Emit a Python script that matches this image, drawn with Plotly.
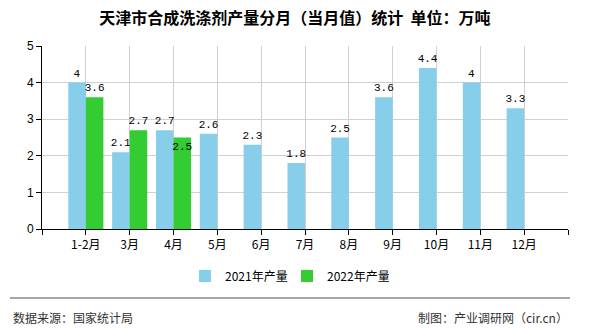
import plotly.graph_objects as go

categories = ["1-2月", "3月", "4月", "5月", "6月", "7月", "8月", "9月", "10月", "11月", "12月"]
values_2021 = [4, 2.1, 2.7, 2.6, 2.3, 1.8, 2.5, 3.6, 4.4, 4, 3.3]
values_2022 = [3.6, 2.7, 2.5]
series_names = ["2021年产量", "2022年产量"]
y_ticks = [0, 1, 2, 3, 4, 5]

title_text = "天津市合成洗涤剂产量分月（当月值）统计  单位：万吨"
source_text = "数据来源：国家统计局"
credit_text = "制图：产业调研网（cir.cn）"

CJK = "Noto Sans CJK SC"
LABEL_FONT = dict(family="Liberation Mono", size=11, color="#000000")

x21 = list(range(len(values_2021)))
x22 = list(range(len(values_2022)))

fig = go.Figure()
fig.add_trace(go.Bar(
    name=series_names[0], x=x21, y=values_2021,
    marker=dict(color="#87CEEB", line=dict(width=0)),
    text=[f"{v:g}" for v in values_2021], textposition="outside",
    textfont=LABEL_FONT, outsidetextfont=LABEL_FONT, textangle=0,
    constraintext="none", cliponaxis=False,
))
fig.add_trace(go.Bar(
    name=series_names[1], x=x22, y=values_2022,
    marker=dict(color="#33CC33", line=dict(width=0)),
    text=[f"{v:g}" for v in values_2022],
    textposition=["outside", "outside", "inside"],
    insidetextanchor="end", textangle=0, constraintext="none",
    textfont=LABEL_FONT, insidetextfont=LABEL_FONT, outsidetextfont=LABEL_FONT,
    cliponaxis=False,
))

n = len(categories)
fig.update_layout(
    width=590, height=330,
    margin=dict(l=42, r=22, t=46, b=101),
    paper_bgcolor="white", plot_bgcolor="white",
    barmode="group", bargap=0.2, bargroupgap=0,
    font=dict(family=CJK, size=12, color="#000000"),
    title=dict(text=title_text, x=0.5, xanchor="center", y=1 - 18 / 330, yanchor="middle",
               yref="container", font=dict(family=CJK, size=16, color="#000000", weight="bold")),
    showlegend=True,
    legend=dict(orientation="h", x=(185 - 42) / 526, xanchor="left", y=(229 - 276) / 183, yanchor="middle",
                font=dict(family=CJK, size=12, color="#000000"),
                entrywidth=57, traceorder="normal", bgcolor="rgba(0,0,0,0)"),
    xaxis=dict(
        range=[-1, n], tickmode="array",
        tickvals=list(range(-1, n + 1)),
        ticktext=[""] + categories + [""],
        showgrid=True, gridcolor="#d0d0d0", gridwidth=1, zeroline=False,
        showline=True, linecolor="#000000", linewidth=1,
        ticks="outside", ticklen=5, tickcolor="#000000",
        tickfont=dict(family=CJK, size=12, color="#000000"),
        fixedrange=True,
    ),
    yaxis=dict(
        range=[0, 5], tickmode="array", tickvals=y_ticks,
        showgrid=True, gridcolor="#d0d0d0", gridwidth=1, zeroline=False,
        showline=True, linecolor="#000000", linewidth=1,
        ticks="outside", ticklen=5, tickcolor="#000000",
        tickfont=dict(family="Liberation Sans", size=12, color="#000000"),
        fixedrange=True,
    ),
    shapes=[
        dict(type="line", xref="paper", yref="paper",
             x0=(10 - 42) / 526, x1=(570 - 42) / 526,
             y0=(229 - 298) / 183, y1=(229 - 298) / 183,
             line=dict(color="#888888", width=1.5)),
    ],
    annotations=[
        dict(text=source_text, xref="paper", yref="paper", x=(11 - 42) / 526, xanchor="left",
             y=(229 - 317) / 183, yanchor="middle", showarrow=False,
             font=dict(family=CJK, size=12, color="#333333")),
        dict(text=credit_text, xref="paper", yref="paper", x=(570 - 42) / 526, xanchor="right",
             y=(229 - 317) / 183, yanchor="middle", showarrow=False,
             font=dict(family=CJK, size=12, color="#333333")),
    ],
)

fig.write_html("out.html")
